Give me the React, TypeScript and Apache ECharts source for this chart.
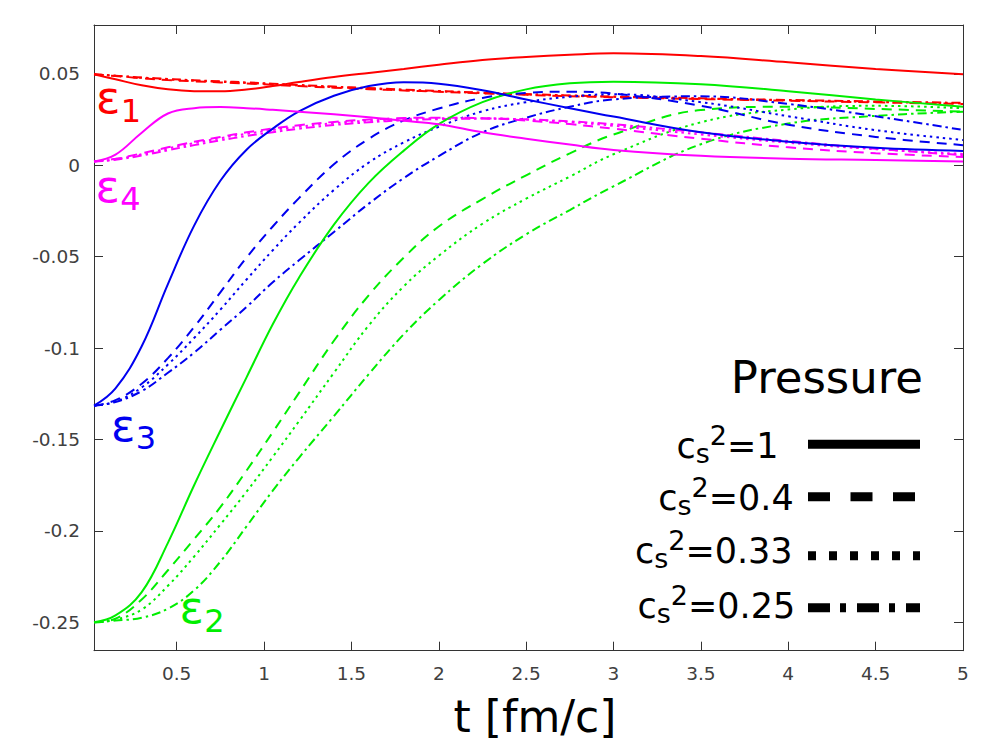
import React, { useEffect, useRef } from "react";
import * as echarts from "echarts";

// ---------- data ----------
const T = [0.027, 0.15, 0.3, 0.45, 0.6, 0.75, 0.9, 1.05, 1.2, 1.4, 1.6, 1.8, 2.0, 2.25, 2.5, 2.75, 3.0, 3.5, 4.0, 4.5, 5.0];

const X_TICKS = [0.5, 1, 1.5, 2, 2.5, 3, 3.5, 4, 4.5, 5];
const Y_TICKS = [-0.25, -0.2, -0.15, -0.1, -0.05, 0, 0.05];

// epsilon_1
const E1_CS1 = [0.0497, 0.047, 0.0437, 0.0415, 0.0405, 0.0404, 0.0414, 0.0433, 0.0455, 0.0482, 0.0505, 0.0527, 0.055, 0.0576, 0.0592, 0.0604, 0.0612, 0.0597, 0.0563, 0.0527, 0.0498];
const E1_CS04 = [0.0497, 0.0488, 0.0476, 0.0466, 0.0459, 0.0453, 0.0447, 0.044, 0.0433, 0.0424, 0.0416, 0.0409, 0.0402, 0.0393, 0.0385, 0.0378, 0.0372, 0.0362, 0.0353, 0.0344, 0.0335];
const E1_CS033 = [0.0497, 0.0489, 0.0478, 0.0469, 0.0462, 0.0456, 0.045, 0.0443, 0.0436, 0.0427, 0.0419, 0.0411, 0.0404, 0.0395, 0.0387, 0.038, 0.0374, 0.0364, 0.0355, 0.0346, 0.0338];
const E1_CS025 = [0.0497, 0.049, 0.048, 0.0472, 0.0465, 0.0459, 0.0453, 0.0446, 0.0439, 0.043, 0.0422, 0.0414, 0.0406, 0.0397, 0.0389, 0.0382, 0.0376, 0.0366, 0.0357, 0.0349, 0.0341];

// epsilon_2
const E2_CS1 = [-0.25, -0.2462, -0.2335, -0.2065, -0.175, -0.1452, -0.116, -0.087, -0.0615, -0.0325, -0.0095, 0.008, 0.0225, 0.0345, 0.0415, 0.0448, 0.0457, 0.0443, 0.0405, 0.036, 0.032];
const E2_CS04 = [-0.25, -0.248, -0.2375, -0.2215, -0.2045, -0.187, -0.167, -0.146, -0.1245, -0.096, -0.071, -0.0505, -0.0335, -0.0185, -0.0055, 0.0065, 0.0168, 0.0302, 0.032, 0.0308, 0.0293];
const E2_CS033 = [-0.25, -0.2485, -0.243, -0.23, -0.214, -0.1965, -0.1785, -0.1595, -0.14, -0.1135, -0.0875, -0.0662, -0.0495, -0.032, -0.0183, -0.0062, 0.006, 0.0235, 0.0305, 0.0325, 0.0312];
const E2_CS025 = [-0.25, -0.249, -0.2475, -0.2425, -0.2325, -0.2168, -0.1975, -0.178, -0.16, -0.1372, -0.1142, -0.0924, -0.0738, -0.054, -0.0378, -0.0245, -0.0115, 0.0115, 0.0228, 0.027, 0.0293];

// epsilon_3
const E3_CS1 = [-0.1315, -0.122, -0.099, -0.065, -0.033, -0.0085, 0.0085, 0.02, 0.0295, 0.038, 0.0433, 0.0454, 0.0446, 0.041, 0.036, 0.0312, 0.0266, 0.018, 0.0129, 0.0095, 0.0078];
const E3_CS04 = [-0.1315, -0.1285, -0.1195, -0.1055, -0.0885, -0.0695, -0.0505, -0.0335, -0.018, 0.0005, 0.0145, 0.0245, 0.031, 0.0368, 0.0395, 0.0402, 0.0392, 0.0325, 0.0222, 0.0155, 0.011];
const E3_CS033 = [-0.1315, -0.1293, -0.1215, -0.109, -0.0945, -0.079, -0.0625, -0.0465, -0.0315, -0.0135, 0.0015, 0.0125, 0.021, 0.0295, 0.0345, 0.0375, 0.0388, 0.0345, 0.0268, 0.0192, 0.0138];
const E3_CS025 = [-0.1315, -0.1295, -0.1235, -0.1135, -0.1025, -0.09, -0.0775, -0.064, -0.052, -0.0365, -0.021, -0.007, 0.005, 0.018, 0.026, 0.032, 0.036, 0.0377, 0.0335, 0.0268, 0.0193];

// epsilon_4
const E4_CS1 = [0.002, 0.0058, 0.0178, 0.0283, 0.0312, 0.0318, 0.0312, 0.0303, 0.0293, 0.0279, 0.0262, 0.0243, 0.0224, 0.018, 0.0145, 0.0113, 0.0084, 0.0052, 0.0036, 0.0029, 0.0021];
const E4_CS04 = [0.002, 0.0035, 0.0065, 0.0098, 0.0128, 0.0155, 0.018, 0.0201, 0.0219, 0.0237, 0.025, 0.0258, 0.026, 0.0257, 0.0245, 0.0225, 0.02, 0.0145, 0.0098, 0.0066, 0.0045];
const E4_CS033 = [0.002, 0.0033, 0.006, 0.0092, 0.0121, 0.0148, 0.0172, 0.0193, 0.0211, 0.023, 0.0244, 0.0253, 0.0257, 0.0257, 0.025, 0.0236, 0.0216, 0.0168, 0.0123, 0.0088, 0.0062];
const E4_CS025 = [0.002, 0.003, 0.0053, 0.0082, 0.011, 0.0136, 0.016, 0.0181, 0.02, 0.022, 0.0235, 0.0246, 0.0252, 0.0255, 0.0251, 0.024, 0.0224, 0.018, 0.0133, 0.009, 0.0055];

const LEGEND_VALUES = ["1", "0.4", "0.33", "0.25"];

// ---------- styles ----------
const FONT = "DejaVu Sans";
const X_MIN = 0.027;
const X_MAX = 5;
const Y_MIN = -0.2655;
const Y_MAX = 0.0767;

const RED = "#ff0000";
const GREEN = "#00ee00";
const BLUE = "#0000f0";
const MAGENTA = "#ff00ff";

const DASH_PLOT: any[] = ["solid", [10, 7], [2.5, 4], [9, 4, 2.5, 4]];
const DASH_LEGEND: any[] = [null, [22, 20.5], [8, 13], [22, 10, 6, 11]];

const fmt = (v: number) => String(Math.round(v * 1000) / 1000);

export default function App() {
  const ref = useRef<HTMLDivElement>(null);

  useEffect(() => {
    const el = ref.current;
    if (!el) return;
    const chart = echarts.init(el, null, { renderer: "svg" });

    const ctx = document.createElement("canvas").getContext("2d") as CanvasRenderingContext2D;
    const measure = (t: string, size: number) => {
      ctx.font = `${size}px "${FONT}"`;
      return ctx.measureText(t).width;
    };

    const groups = [
      { color: RED, arrs: [E1_CS1, E1_CS04, E1_CS033, E1_CS025], name: "ε1" },
      { color: GREEN, arrs: [E2_CS1, E2_CS04, E2_CS033, E2_CS025], name: "ε2" },
      { color: BLUE, arrs: [E3_CS1, E3_CS04, E3_CS033, E3_CS025], name: "ε3" },
      { color: MAGENTA, arrs: [E4_CS1, E4_CS04, E4_CS033, E4_CS025], name: "ε4" },
    ];

    const series: any[] = [];
    groups.forEach((g) => {
      g.arrs.forEach((arr, k) => {
        series.push({
          name: `${g.name} cs2=${LEGEND_VALUES[k]}`,
          type: "line",
          data: T.map((t, i) => [t, arr[i]]),
          showSymbol: false,
          symbol: "none",
          smooth: 0.4,
          silent: true,
          clip: true,
          lineStyle: { color: g.color, width: 2, type: DASH_PLOT[k] },
          z: k === 0 ? 3 : 2,
        });
      });
    });

    const mid = (baseline: number, size: number) => baseline - 0.346 * size;
    const txt = (text: string, x: number, baseline: number, size: number, color: string, align = "left") => ({
      type: "text",
      silent: true,
      style: {
        text,
        x,
        y: mid(baseline, size),
        fontSize: size,
        fontFamily: FONT,
        fill: color,
        align,
        textAlign: align,
        verticalAlign: "middle",
        textVerticalAlign: "middle",
      },
    });

    const graphics: any[] = [];
    // epsilon labels
    const EPS = [
      { n: "1", x: 96, b: 113.3, sb: 121.7, c: RED },
      { n: "4", x: 95.5, b: 201.7, sb: 210, c: MAGENTA },
      { n: "3", x: 111, b: 440.7, sb: 449, c: BLUE },
      { n: "2", x: 179.5, b: 623.3, sb: 631.7, c: GREEN },
    ];
    const epsW = measure("ε", 45);
    EPS.forEach((e) => {
      graphics.push(txt("ε", e.x, e.b, 45, e.c));
      graphics.push(txt(e.n, e.x + epsW + 0.5, e.sb, 32, e.c));
    });

    // legend
    graphics.push(txt("Pressure", 923, 393.3, 45, "#000", "right"));
    const LX = [676.5, 658.2, 634.9, 637.5];
    const LB = [458.3, 510, 563.3, 618.3];
    const LY = [444.3, 496.7, 555.7, 607.7];
    const F = 35;
    const S = 27;
    LEGEND_VALUES.forEach((v, i) => {
      const x0 = LX[i];
      const b = LB[i];
      graphics.push(txt("c", x0, b, F, "#000"));
      const xs = x0 + measure("c", F);
      graphics.push(txt("s", xs, b + 5, S, "#000"));
      const x2 = xs + measure("s", S);
      graphics.push(txt("2", x2, b - 13.6, S, "#000"));
      const xe = x2 + measure("2", S);
      graphics.push(txt("=" + v, xe, b, F, "#000"));
      graphics.push({
        type: "line",
        silent: true,
        shape: { x1: 808, y1: LY[i], x2: 920, y2: LY[i] },
        style: { stroke: "#000", lineWidth: 9, lineDash: DASH_LEGEND[i] || undefined, lineCap: "butt" },
      });
    });

    const axisLineStyle = { color: "#333", width: 1 };
    const tickStyle = { color: "#333", width: 1 };
    const labelStyle = { fontSize: 18.5, fontFamily: FONT, color: "#404040" };

    const option: any = {
      animation: false,
      backgroundColor: "#ffffff",
      grid: { left: 94, right: 37, top: 25, bottom: 99.3, containLabel: false },
      xAxis: [
        {
          type: "value",
          min: X_MIN,
          max: X_MAX,
          position: "bottom",
          axisLine: { show: true, onZero: false, lineStyle: axisLineStyle },
          axisTick: { show: true, inside: true, length: 9, customValues: X_TICKS, lineStyle: tickStyle },
          axisLabel: { show: true, customValues: X_TICKS, formatter: fmt, margin: 13, ...labelStyle },
          splitLine: { show: false },
          name: "t [fm/c]",
          nameLocation: "middle",
          nameGap: 44,
          nameTextStyle: { fontSize: 44, fontFamily: FONT, color: "#000", padding: [0, 0, 0, 13] },
        },
        {
          type: "value",
          min: X_MIN,
          max: X_MAX,
          position: "top",
          axisLine: { show: true, onZero: false, lineStyle: axisLineStyle },
          axisTick: { show: true, inside: true, length: 9, customValues: X_TICKS, lineStyle: tickStyle },
          axisLabel: { show: false },
          splitLine: { show: false },
        },
      ],
      yAxis: [
        {
          type: "value",
          min: Y_MIN,
          max: Y_MAX,
          position: "left",
          axisLine: { show: true, onZero: false, lineStyle: axisLineStyle },
          axisTick: { show: true, inside: true, length: 9, customValues: Y_TICKS, lineStyle: tickStyle },
          axisLabel: { show: true, customValues: Y_TICKS, formatter: fmt, margin: 14, ...labelStyle },
          splitLine: { show: false },
        },
        {
          type: "value",
          min: Y_MIN,
          max: Y_MAX,
          position: "right",
          axisLine: { show: true, onZero: false, lineStyle: axisLineStyle },
          axisTick: { show: true, inside: true, length: 9, customValues: Y_TICKS, lineStyle: tickStyle },
          axisLabel: { show: false },
          splitLine: { show: false },
        },
      ],
      series,
      graphic: graphics,
    };

    chart.setOption(option);
    return () => chart.dispose();
  }, []);

  return (
    <div
      ref={ref}
      style={{ position: "fixed", left: 0, top: 0, width: 1000, height: 750, background: "#fff" }}
    />
  );
}
